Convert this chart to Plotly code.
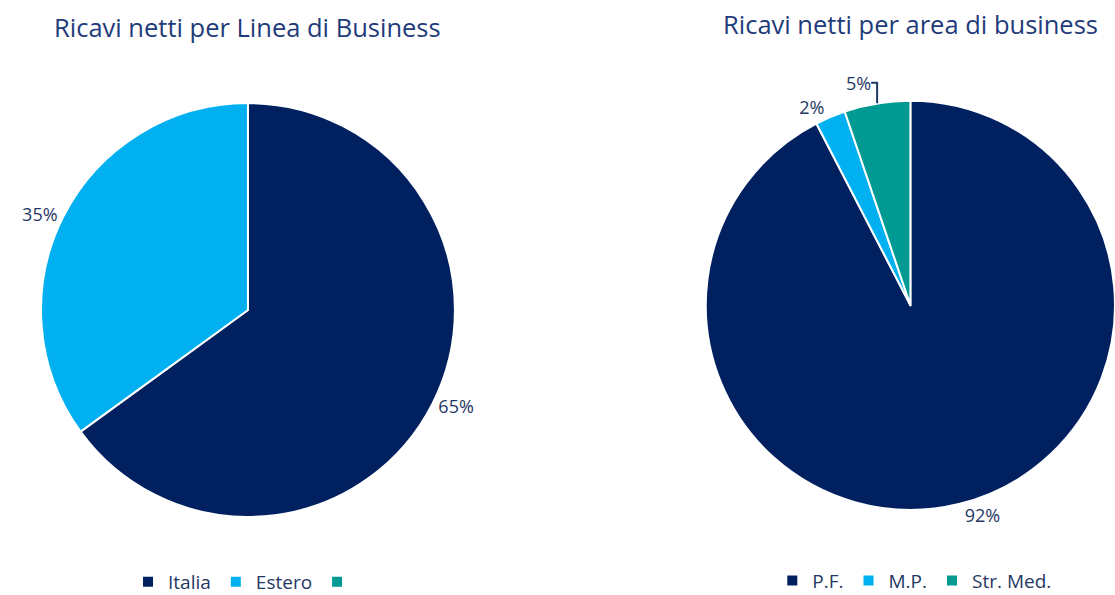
import plotly.graph_objects as go

left_labels = ["Italia", "Estero", " "]
left_values = [65, 35, 0]
right_labels = ["P.F.", "M.P.", "Str. Med."]
right_values = [92.4, 2.4, 5.2]

navy = "#002060"
blue = "#00B0F0"
teal = "#009A93"
text_col = "#1F3864"
title_col = "#1F3B7A"
font_fam = "Open Sans, Noto Sans, sans-serif"

pct = "%{percent:.0%}"

fig = go.Figure()
fig.add_trace(go.Pie(
    labels=left_labels, values=left_values, sort=False, direction="clockwise", rotation=0,
    marker=dict(colors=[navy, blue, teal], line=dict(color="white", width=2)),
    textinfo="percent", textposition="outside", texttemplate=[pct, pct, ""],
    textfont=dict(size=18, color=text_col, family=font_fam),
    domain=dict(x=[0.0368, 0.408], y=[0.131, 0.827]),
    legend="legend", showlegend=True, hoverinfo="label+percent",
))
fig.add_trace(go.Pie(
    labels=right_labels, values=right_values, sort=False, direction="clockwise", rotation=0,
    marker=dict(colors=[navy, blue, teal], line=dict(color="white", width=2)),
    textinfo="percent", textposition="outside", texttemplate=pct,
    textfont=dict(size=18, color=text_col, family=font_fam),
    domain=dict(x=[0.633, 1.0], y=[0.142, 0.832]),
    legend="legend2", showlegend=True, hoverinfo="label+percent",
))

fig.update_layout(
    width=1115, height=595,
    margin=dict(l=0, r=0, t=0, b=0, autoexpand=False),
    paper_bgcolor="white", plot_bgcolor="white",
    font=dict(family=font_fam, color=text_col),
    legend=dict(orientation="h", x=0.222, xanchor="center", y=0.022, yanchor="middle",
                font=dict(size=19, color=text_col, family=font_fam), itemwidth=30,
                traceorder="normal"),
    legend2=dict(orientation="h", x=0.82, xanchor="center", y=0.024, yanchor="middle",
                 font=dict(size=19, color=text_col, family=font_fam), itemwidth=30,
                 traceorder="normal"),
    annotations=[
        dict(text="Ricavi netti per Linea di Business", x=0.222, y=0.955, xref="paper", yref="paper",
             xanchor="center", yanchor="middle", showarrow=False,
             font=dict(size=25.5, color=title_col, family=font_fam)),
        dict(text="Ricavi netti per area di business", x=0.817, y=0.96, xref="paper", yref="paper",
             xanchor="center", yanchor="middle", showarrow=False,
             font=dict(size=25.5, color=title_col, family=font_fam)),
    ],
)

fig.write_html("out.html")
